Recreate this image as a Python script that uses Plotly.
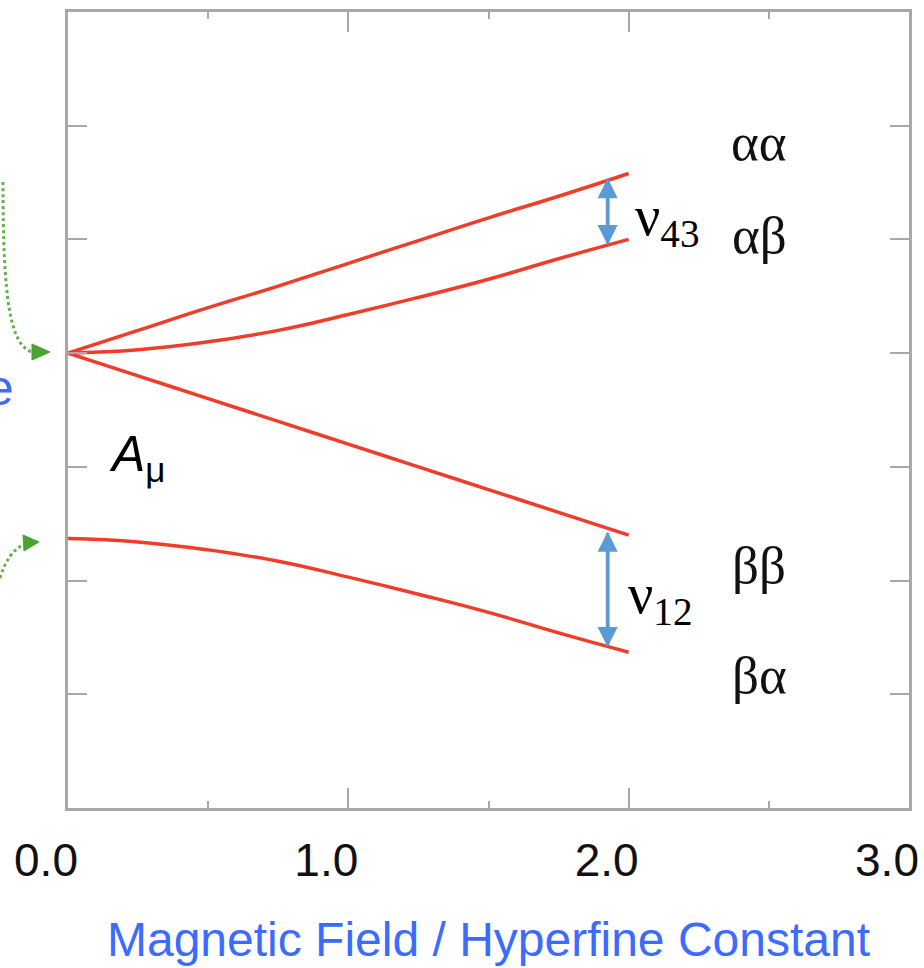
import plotly.graph_objects as go

# Field values (in units of the hyperfine field) at which the levels are sampled
field = [0.0, 0.25, 0.5, 0.75, 1.0, 1.25, 1.5, 1.75, 2.0]

# Energy levels (arbitrary energy units)
level_aa = [4.00, 4.20, 4.40, 4.59, 4.79, 4.99, 5.19, 5.38, 5.58]
level_ab = [4.00, 4.03, 4.10, 4.20, 4.34, 4.49, 4.65, 4.83, 5.00]
level_bb = [4.00, 3.80, 3.60, 3.40, 3.20, 3.00, 2.80, 2.60, 2.40]
level_ba = [2.37, 2.34, 2.27, 2.17, 2.03, 1.88, 1.72, 1.54, 1.37]

# Transition markers: field position and the two levels each one joins
nu43_field = 1.925
nu43_span = [4.95, 5.54]
nu12_field = 1.925
nu12_span = [1.415, 2.43]

x_ticks = [0, 1, 2, 3]
x_ticklabels = ["0.0", "1.0", "2.0", "3.0"]

# State labels placed at the end of each level
state_names = ["αα", "αβ", "ββ", "βα"]
state_y = [5.86, 5.04, 2.14, 1.17]
state_x = 2.465

RED = "#ef3d2a"
BLUE_ARROW = "#5b9bd5"
FRAME = "#a8a8a8"
GREEN = "#4aa332"

W, H = 924, 968
L, R, T, B = 68, 15, 12, 160
PW, PH = W - L - R, H - T - B


def px(xp, yp):
    """Pixel position -> paper coordinates."""
    return (xp - L) / PW, (H - B - yp) / PH


fig = go.Figure()
for ys in (level_aa, level_ab, level_bb, level_ba):
    fig.add_trace(go.Scatter(
        x=field, y=ys, mode="lines",
        line=dict(color=RED, width=3.5, shape="spline", smoothing=1.3),
        hoverinfo="skip", showlegend=False,
    ))

annotations = []
# double-headed transition arrows
for fx, (lo, hi) in ((nu43_field, nu43_span), (nu12_field, nu12_span)):
    for head, tail in ((hi, lo), (lo, hi)):
        annotations.append(dict(
            x=fx, y=head, ax=fx, ay=tail, xref="x", yref="y",
            axref="x", ayref="y", text="", showarrow=True,
            arrowhead=2, arrowsize=1.15, arrowwidth=3.5,
            arrowcolor=BLUE_ARROW, standoff=0,
        ))

serif = "Liberation Serif, Times New Roman, serif"
annotations.append(dict(
    x=2.015, y=5.17, xref="x", yref="y", xanchor="left", yanchor="middle",
    text="ν<sub>43</sub>", showarrow=False,
    font=dict(family=serif, size=56, color="black"),
))
annotations.append(dict(
    x=1.99, y=1.85, xref="x", yref="y", xanchor="left", yanchor="middle",
    text="ν<sub>12</sub>", showarrow=False,
    font=dict(family=serif, size=56, color="black"),
))
for name, yy in zip(state_names, state_y):
    annotations.append(dict(
        x=state_x, y=yy, xref="x", yref="y", xanchor="center",
        yanchor="middle", text=name, showarrow=False,
        font=dict(family=serif, size=53, color="#111111"),
    ))

annotations.append(dict(
    x=0.14, y=3.08, xref="x", yref="y", xanchor="left", yanchor="middle",
    text="<i>A</i><sub>μ</sub>", showarrow=False,
    font=dict(family="Liberation Sans, Arial, sans-serif", size=50,
              color="black"),
))

# word fragment cut by the left edge
ex, ey = px(16, 388)
annotations.append(dict(
    x=ex, y=ey, xref="paper", yref="paper", xanchor="right",
    yanchor="middle", text="e", showarrow=False,
    font=dict(family="Liberation Sans, Arial, sans-serif", size=50,
              color="#3d6bff"),
))

# green dotted pointers on the left margin
def path_from(cmds):
    out = []
    for c in cmds:
        if isinstance(c, str):
            out.append(c)
        else:
            a, b = px(*c)
            out.append(f"{a:.5f},{b:.5f}")
    return " ".join(out)


shapes = [
    dict(type="path", xref="paper", yref="paper",
         path=path_from(["M", (3, 182), "C", (3, 300), (10, 345), (32, 352)]),
         line=dict(color="#62b24a", width=3, dash="dot")),
    dict(type="path", xref="paper", yref="paper",
         path=path_from(["M", (50, 352), "L", (32, 344), "L", (32, 360), "Z"]),
         fillcolor=GREEN, line=dict(color=GREEN, width=1)),
    dict(type="path", xref="paper", yref="paper",
         path=path_from(["M", (0, 578), "Q", (8, 552), (23, 545)]),
         line=dict(color="#62b24a", width=3, dash="dot")),
    dict(type="path", xref="paper", yref="paper",
         path=path_from(["M", (39, 542), "L", (23, 535), "L", (24, 551), "Z"]),
         fillcolor=GREEN, line=dict(color=GREEN, width=1)),
]

fig.update_layout(
    width=W, height=H,
    margin=dict(l=L, r=R, t=T, b=B, autoexpand=False),
    paper_bgcolor="white", plot_bgcolor="white",
    showlegend=False,
    annotations=annotations,
    shapes=shapes,
)

fig.update_xaxes(
    range=[0, 3], tickvals=x_ticks, ticktext=x_ticklabels,
    ticks="inside", ticklen=20, tickwidth=2, tickcolor=FRAME,
    minor=dict(dtick=0.5, ticks="inside", ticklen=7, tickwidth=2,
               tickcolor=FRAME, showgrid=False),
    showline=True, linecolor=FRAME, linewidth=3, mirror="allticks",
    showgrid=False, zeroline=False,
    tickfont=dict(family="Liberation Sans, Arial, sans-serif", size=46,
                  color="#111111"),
    ticklabelshift=-22, ticklabelstandoff=10,
    title=dict(text="Magnetic Field / Hyperfine Constant",
               font=dict(family="Liberation Sans, Arial, sans-serif",
                         size=48, color="#3d6bff"),
               standoff=38),
)
fig.update_yaxes(
    range=[0, 7], dtick=1, tick0=0,
    ticks="inside", ticklen=19, tickwidth=2, tickcolor=FRAME,
    showline=True, linecolor=FRAME, linewidth=3, mirror="allticks",
    showgrid=False, zeroline=False, showticklabels=False,
)

fig.write_html("out.html")
